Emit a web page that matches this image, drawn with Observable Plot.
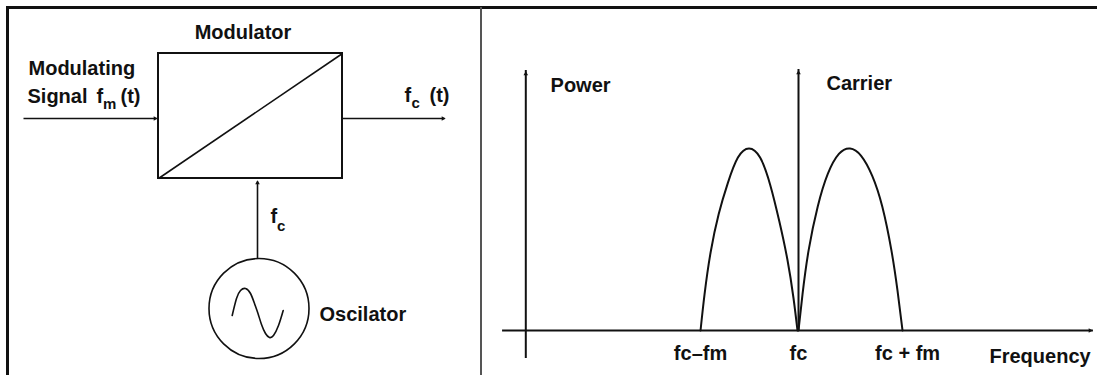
<!DOCTYPE html>
<html>
<head>
<meta charset="utf-8">
<script src="https://cdn.jsdelivr.net/npm/d3@7"></script>
<script src="https://cdn.jsdelivr.net/npm/@observablehq/plot@0.6"></script>
<style>
  html, body { margin: 0; padding: 0; background: #fff; }
  #wrap { position: relative; width: 1097px; height: 375px; overflow: hidden; background: #fff; }
  #wrap svg { position: absolute; top: 0; }
  .b { position: absolute; background: #111; }
</style>
</head>
<body>
<div id="wrap"></div>
<script>
// ---------------- Block diagram (left panel) ----------------
const modulatorBox = [{x1: 158, y1: 53, x2: 342, y2: 178}];
const modulatorDiagonal = [{x1: 158, y1: 178, x2: 342, y2: 53}];
const wires = [
  {x1: 23, y1: 118, x2: 156, y2: 118},   // modulating signal in
  {x1: 342, y1: 118, x2: 444, y2: 118},  // fc(t) out
  {x1: 257, y1: 258, x2: 257, y2: 181}   // oscillator -> modulator
];
const arrowHeads = [
  {x: 154.5, y: 118, dir: 90},
  {x: 442.5, y: 118, dir: 90},
  {x: 257, y: 182.5, dir: 0}
];
const oscillatorCircle = [{x: 258.5, y: 308}];
const sineX = [231.7, 236, 240, 245, 250, 254, 257.5, 261, 265, 269, 273, 278, 282.7];
const sineY = [315, 298, 290, 288, 293, 303, 313, 324, 333, 337, 335, 325, 310];
const centeredLabels = [
  {x: 242.5, y: 38, text: "Modulator", size: 20}
];
const leftLabels = [
  {x: 28, y: 74, text: "Modulating", size: 20},
  {x: 27, y: 102, text: "Signal", size: 20},
  {x: 96, y: 102, text: "f", size: 20},
  {x: 102.5, y: 108.5, text: "m", size: 15},
  {x: 120, y: 102, text: "(t)", size: 20},
  {x: 404, y: 101, text: "f", size: 20},
  {x: 411, y: 107.5, text: "c", size: 15},
  {x: 429, y: 101, text: "(t)", size: 20},
  {x: 270, y: 222, text: "f", size: 20},
  {x: 276.5, y: 230.5, text: "c", size: 15},
  {x: 319, y: 320, text: "Oscilator", size: 20}
];

// ---------------- Spectrum (right panel) ----------------
// frequency in units of fm relative to fc; power relative to sideband peak
const lowerSidebandF = [-0.97, -0.93, -0.87, -0.79, -0.70, -0.60, -0.49, -0.38, -0.28, -0.19, -0.11, -0.05, -0.01];
const lowerSidebandP = [0, 0.20, 0.43, 0.64, 0.81, 0.95, 1.0, 0.95, 0.80, 0.60, 0.39, 0.18, 0];
const upperSidebandF = [0.0, 0.04, 0.10, 0.19, 0.29, 0.40, 0.51, 0.62, 0.73, 0.83, 0.92, 0.98, 1.03];
const upperSidebandP = [0, 0.20, 0.44, 0.68, 0.86, 0.97, 1.0, 0.96, 0.85, 0.68, 0.44, 0.22, 0];
const carrierLine = [{f: 0, p1: 0, p2: 1.434}];
const powerAxis = [{f: -2.70, p1: -0.154, p2: 1.429}];
const frequencyAxis = [{p: 0, f1: -2.93, f2: 2.92}];
const upHeads = [{f: -2.70, p: 1.429}, {f: 0, p: 1.434}];
const rightHeads = [{f: 2.92, p: 0}];
const tickPos = [-0.97, 0, 1.08];
const tickLabels = ["fc–fm", "fc", "fc + fm"];
const ticks = tickPos.map((f, i) => ({f, label: tickLabels[i]}));
const spectrumLabels = [
  {f: -2.455, p: 1.308, text: "Power"},
  {f: 0.277, p: 1.319, text: "Carrier"},
  {f: 1.891, p: -0.181, text: "Frequency"}
];

const ink = "#111";
const font = "'Liberation Sans', Arial, Helvetica, sans-serif";

const lowerSideband = lowerSidebandF.map((f, i) => ({f, p: lowerSidebandP[i]}));
const upperSideband = upperSidebandF.map((f, i) => ({f, p: upperSidebandP[i]}));
const sine = sineX.map((x, i) => ({x, y: sineY[i]}));

const left = Plot.plot({
  width: 481, height: 375,
  margin: 0,
  style: {background: "transparent", fontFamily: font},
  x: {domain: [0, 481], axis: null},
  y: {domain: [0, 375], reverse: true, axis: null},
  marks: [
    Plot.rect(modulatorBox, {x1: "x1", y1: "y1", x2: "x2", y2: "y2", fill: "none", stroke: ink, strokeWidth: 2}),
    Plot.link(modulatorDiagonal, {x1: "x1", y1: "y1", x2: "x2", y2: "y2", stroke: ink, strokeWidth: 1.6}),
    Plot.link(wires, {x1: "x1", y1: "y1", x2: "x2", y2: "y2", stroke: ink, strokeWidth: 1.6}),
    Plot.dot(arrowHeads, {x: "x", y: "y", symbol: "triangle2", r: 2.2, fill: ink, rotate: "dir"}),
    Plot.dot(oscillatorCircle, {x: "x", y: "y", r: 50, fill: "none", stroke: ink, strokeWidth: 1.6}),
    Plot.line(sine, {x: "x", y: "y", curve: "natural", stroke: ink, strokeWidth: 1.6}),
    Plot.text(centeredLabels, {x: "x", y: "y", text: "text", fontSize: "size", textAnchor: "middle",
      lineAnchor: "bottom", fontWeight: "bold", fill: ink}),
    Plot.text(leftLabels, {x: "x", y: "y", text: "text", fontSize: "size", textAnchor: "start",
      lineAnchor: "bottom", fontWeight: "bold", fill: ink})
  ]
});

const right = Plot.plot({
  width: 616, height: 375,
  margin: 0,
  style: {background: "transparent", fontFamily: font},
  x: {domain: [-317 / 101, 299 / 101], axis: null},
  y: {domain: [-45 / 182, 330 / 182], axis: null},
  marks: [
    Plot.ruleY(frequencyAxis, {y: "p", x1: "f1", x2: "f2", stroke: ink, strokeWidth: 2}),
    Plot.ruleX(powerAxis, {x: "f", y1: "p1", y2: "p2", stroke: ink, strokeWidth: 2}),
    Plot.ruleX(carrierLine, {x: "f", y1: "p1", y2: "p2", stroke: ink, strokeWidth: 2}),
    Plot.dot(upHeads, {x: "f", y: "p", dy: 3.4, symbol: "triangle2", r: 2.2, fill: ink}),
    Plot.dot(rightHeads, {x: "f", y: "p", dx: -3.4, symbol: "triangle2", r: 2.2, fill: ink, rotate: 90}),
    Plot.line(lowerSideband, {x: "f", y: "p", curve: "natural", stroke: ink, strokeWidth: 2}),
    Plot.line(upperSideband, {x: "f", y: "p", curve: "natural", stroke: ink, strokeWidth: 2}),
    Plot.text(ticks, {x: "f", y: -0.16, text: "label", fontSize: 20, fontWeight: "bold", lineAnchor: "bottom", fill: ink}),
    Plot.text(spectrumLabels, {x: "f", y: "p", text: "text", fontSize: 20, fontWeight: "bold",
      textAnchor: "start", lineAnchor: "bottom", fill: ink})
  ]
});

const wrap = document.getElementById("wrap");
left.style.left = "0px";
right.style.left = "481px";
wrap.appendChild(left);
wrap.appendChild(right);

function border(l, t, w, h, color) {
  const d = document.createElement("div");
  d.className = "b";
  Object.assign(d.style, {left: l + "px", top: t + "px", width: w + "px", height: h + "px"});
  if (color) d.style.background = color;
  wrap.appendChild(d);
}
border(6, 6, 1091, 2.7);
border(6, 6, 2.7, 369);
border(480.3, 7, 1.6, 368, "#555");
</script>
</body>
</html>
